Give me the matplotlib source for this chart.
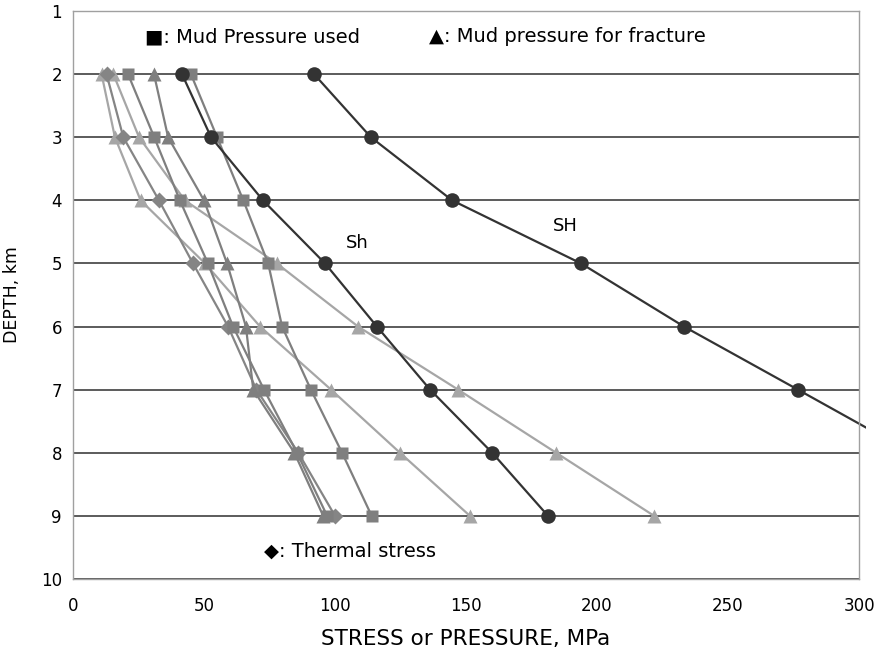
import matplotlib.pyplot as plt
from matplotlib.patches import Rectangle

plt.rcParams['font.family'] = ['DejaVu Sans']

# depth, km
depth = [2, 3, 4, 5, 6, 7, 8, 9]
depth_SH = [2, 3, 4, 5, 6, 7, 8]

# stresses / pressures, MPa
Sh = [41.6, 52.7, 72.5, 96.2, 116.0, 136.3, 160.0, 181.3]
SH = [92.0, 113.7, 144.7, 193.9, 233.2, 276.7, 320.0]
mud_used_a = [45.0, 55.0, 65.0, 74.5, 79.8, 90.8, 102.7, 114.0]
mud_used_b = [21.0, 31.0, 40.8, 51.5, 61.1, 72.9, 85.5, 97.0]
thermal = [12.8, 19.2, 32.8, 45.8, 59.2, 70.0, 86.0, 100.0]
frac_dark = [30.9, 36.3, 50.0, 58.8, 66.0, 68.8, 84.5, 95.5]
frac_light_1 = [15.4, 25.2, 42.7, 77.8, 108.8, 147.0, 184.4, 221.8]
frac_light_2 = [10.9, 16.0, 25.8, 50.4, 71.4, 98.5, 124.8, 151.5]

dark = '#333333'
mid = '#7f7f7f'
light = '#a6a6a6'

fig = plt.figure(figsize=(8.76, 6.54), dpi=100)
ax = fig.add_axes([73/876, 1-579/654, 786/876, 568/654])

lw = 1.6
ax.plot(frac_light_1, depth, '-^', color=light, lw=lw, ms=10, mec='none')
ax.plot(frac_light_2, depth, '-^', color=light, lw=lw, ms=10, mec='none')
ax.plot(thermal, depth, '-D', color='#858585', lw=lw, ms=8, mec='none')
ax.plot(mud_used_b, depth, '-s', color=mid, lw=lw, ms=8.5, mec='none')
ax.plot(frac_dark, depth, '-^', color=mid, lw=lw, ms=10, mec='none')
ax.plot(mud_used_a, depth, '-s', color=mid, lw=lw, ms=8.5, mec='none')
ax.plot(Sh, depth, '-o', color=dark, lw=lw, ms=10.5, mec='none')
sh_line, = ax.plot(SH, depth_SH, '-o', color=dark, lw=lw, ms=10.5, mec='none')
# SH line runs a little past the right edge of the plot area
clip = Rectangle((0, 0), 866/876, 1, transform=fig.transFigure)
sh_line.set_clip_path(clip)

ax.set_xlim(0, 300)
ax.set_ylim(10, 1)
ax.set_xticks(range(0, 301, 50))
ax.set_yticks(range(1, 11))
ax.tick_params(length=0, labelsize=12)
ax.tick_params(axis='x', pad=13)
ax.tick_params(axis='y', pad=8)
ax.yaxis.grid(True, color='#404040', lw=1.2)
ax.set_axisbelow(True)
for s in ax.spines.values():
    s.set_color('#a0a0a0')
    s.set_linewidth(1)

ax.set_xlabel('STRESS or PRESSURE, MPa', fontsize=15.5, labelpad=10)
ax.set_ylabel('DEPTH, km', fontsize=12.5, labelpad=14)

ax.text(108.4, 4.68, 'Sh', fontsize=13, ha='center', va='center')
ax.text(188, 4.41, 'SH', fontsize=13, ha='center', va='center')
ax.text(27.5, 1.41, '■: Mud Pressure used', fontsize=14, va='center')
ax.text(136, 1.41, '▲: Mud pressure for fracture', fontsize=14, va='center')
ax.text(73, 9.56, '◆: Thermal stress', fontsize=14, va='center')

fig.savefig('out.png', dpi=100)
